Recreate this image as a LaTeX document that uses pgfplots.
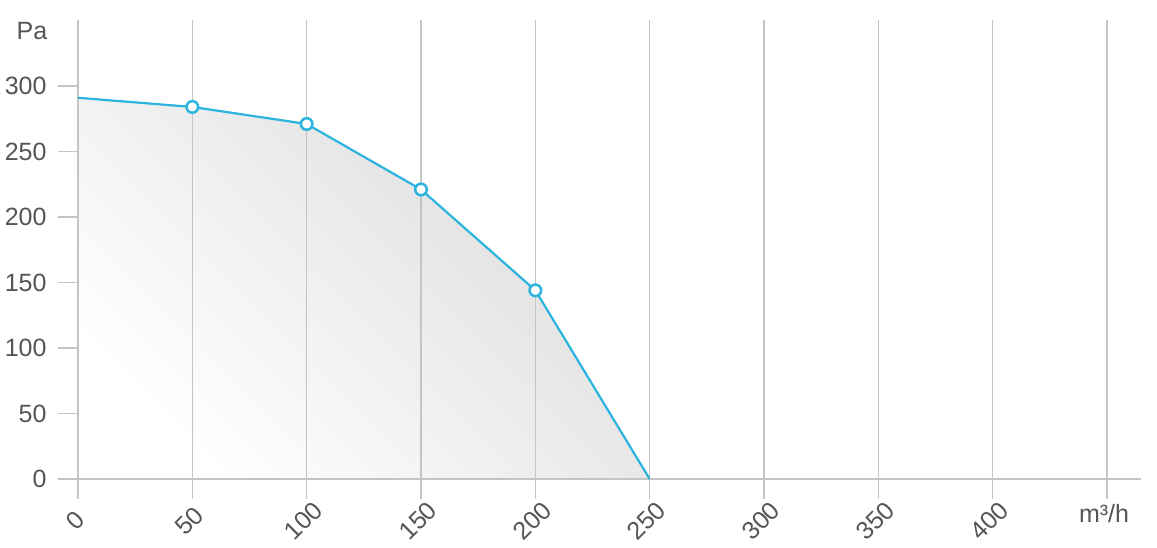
\documentclass[border=0pt]{standalone}
\usepackage{pgfplots}
\pgfplotsset{compat=1.18}
\usepackage{fontspec}
\setmainfont{Liberation Sans}
\definecolor{lc}{HTML}{2AB4DE}
\definecolor{gridc}{HTML}{C4C4C4}
\definecolor{txt}{HTML}{555555}
\definecolor{shade1}{HTML}{DCDCDC}
\begin{document}
\begin{tikzpicture}
\begin{axis}[
  set layers,
  at={(0pt,0pt)}, anchor=south west,
  scale only axis, width=1063.3pt, height=458.5pt,
  xmin=0, xmax=465, ymin=0, ymax=350,
  axis lines=left,
  axis line style={-, draw=gridc, line width=1.3pt},
  tick align=outside, major tick length=20pt,
  tick style={draw=gridc, line width=1.3pt},
  xmajorgrids, grid style={draw=gridc, line width=1.3pt},
  xtick={0,50,...,450}, xticklabels={0,50,100,150,200,250,300,350,400,{}},
  ytick={0,50,...,300},
  /pgf/number format/assume math mode=true,
  tick label style={font=\fontsize{25}{30}\selectfont, text=txt},
  xticklabel style={rotate=45, anchor=center, xshift=-17.7pt, yshift=-13.4pt},
  yticklabel style={anchor=east, xshift=-8pt},
  clip=false,
]
\addplot[draw=none, top color=shade1, bottom color=white, shading angle=-45, on layer=axis background]
  coordinates {(0,291) (50,284) (100,271) (150,221) (200,144) (250,0)} \closedcycle;
\addplot[lc, line width=2.2pt, mark=*, mark indices={2,3,4,5},
  mark size=5.8pt, mark options={fill=white, draw=lc, line width=2.5pt}]
  coordinates {(0,291) (50,284) (100,271) (150,221) (200,144) (250,0)};
\node[font=\fontsize{25}{30}\selectfont, text=txt] at (rel axis cs:0,0) [xshift=1026pt, yshift=-35pt] {m³/h};
\node[font=\fontsize{25}{30}\selectfont, text=txt] at (rel axis cs:0,0) [xshift=-46pt, yshift=448pt] {Pa};
\end{axis}
\path[use as bounding box] (-78pt,-69pt) rectangle (1079pt,479pt);
\end{tikzpicture}
\end{document}
